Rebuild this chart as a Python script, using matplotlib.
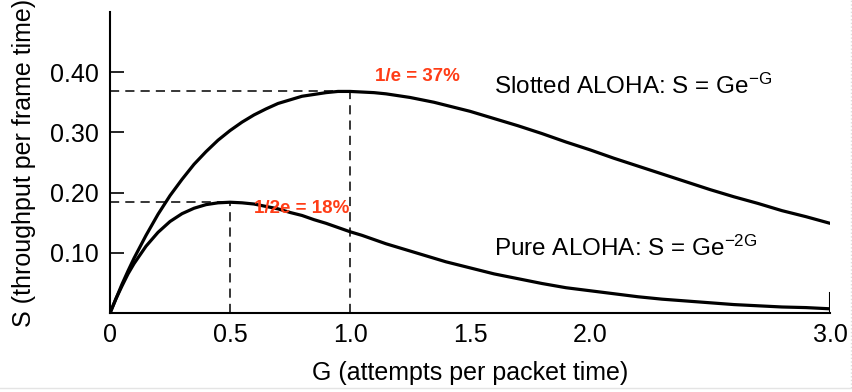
import matplotlib.pyplot as plt
from matplotlib.lines import Line2D

plt.rcParams['font.family'] = ['Liberation Sans', 'DejaVu Sans']
plt.rcParams['mathtext.fontset'] = 'custom'
plt.rcParams['mathtext.rm'] = 'Liberation Sans'
plt.rcParams['mathtext.it'] = 'Liberation Sans'

# G values and throughput
G = [0, 0.025, 0.05, 0.075, 0.1, 0.15, 0.2, 0.25, 0.3, 0.35, 0.4, 0.45, 0.5, 0.55,
     0.6, 0.65, 0.7, 0.75, 0.8, 0.85, 0.9, 0.95, 1.0, 1.05, 1.1, 1.15, 1.2, 1.25,
     1.3, 1.35, 1.4, 1.45, 1.5, 1.6, 1.7, 1.8, 1.9, 2.0, 2.1, 2.2, 2.3, 2.4, 2.5,
     2.6, 2.7, 2.8, 2.9, 3.0]
slotted = [0, 0.024, 0.048, 0.070, 0.091, 0.129, 0.164, 0.195, 0.222, 0.247, 0.268,
           0.287, 0.303, 0.317, 0.329, 0.339, 0.348, 0.354, 0.360, 0.363, 0.366,
           0.368, 0.368, 0.367, 0.366, 0.364, 0.361, 0.358, 0.354, 0.350, 0.345,
           0.340, 0.335, 0.323, 0.311, 0.298, 0.284, 0.271, 0.257, 0.244, 0.231,
           0.218, 0.205, 0.193, 0.182, 0.170, 0.160, 0.149]
pure = [0, 0.024, 0.045, 0.065, 0.082, 0.111, 0.134, 0.152, 0.165, 0.174, 0.180,
        0.183, 0.184, 0.183, 0.181, 0.177, 0.173, 0.167, 0.162, 0.155, 0.149,
        0.142, 0.135, 0.129, 0.122, 0.115, 0.109, 0.103, 0.097, 0.091, 0.085,
        0.080, 0.075, 0.065, 0.057, 0.049, 0.042, 0.037, 0.032, 0.027, 0.023,
        0.020, 0.017, 0.014, 0.012, 0.010, 0.009, 0.007]

peak_slotted = (1.0, 0.368)
peak_pure = (0.5, 0.184)

xticks = [0, 0.5, 1.0, 1.5, 2.0, 3.0]
xticklabels = ["0", "0.5", "1.0", "1.5", "2.0", "3.0"]
yticks = [0.10, 0.20, 0.30, 0.40]
yticklabels = ["0.10", "0.20", "0.30", "0.40"]

fig = plt.figure(figsize=(8.53, 3.92), dpi=100)
ax = fig.add_axes([0.129, 0.2015, 0.844, 0.768])

ax.plot(G, slotted, color='black', lw=2.3, solid_capstyle='round', solid_joinstyle='round')
ax.plot(G, pure, color='black', lw=2.3, solid_capstyle='round', solid_joinstyle='round')

# dashed guides to the maxima
for px, py in [peak_slotted, peak_pure]:
    ax.plot([0, px], [py, py], color='black', lw=1.1, ls=(0, (6, 4)))
    ax.plot([px, px], [0, py], color='black', lw=1.1, ls=(0, (6, 4)))

ax.axvline(3.0, ymax=0.066, color='black', lw=1.5)

ax.set_xlim(0, 3.0)
ax.set_ylim(0, 0.5)
ax.spines['top'].set_visible(False)
ax.spines['right'].set_visible(False)
ax.spines['left'].set_linewidth(1.5)
ax.spines['bottom'].set_linewidth(1.5)

ax.set_xticks(xticks)
ax.set_xticklabels(xticklabels)
ax.set_yticks(yticks)
ax.set_yticklabels(yticklabels)
ax.tick_params(axis='x', length=0, pad=7, labelsize=18)
ax.tick_params(axis='y', direction='in', length=10, width=1.2, pad=8, labelsize=18)

ax.set_xlabel("G (attempts per packet time)", fontsize=18, labelpad=10)
ax.set_ylabel("S (throughput per frame time)", fontsize=18, labelpad=10)

ax.text(1.6, 0.377, "Slotted ALOHA: S = Ge$^{\\mathregular{-G}}$", fontsize=17.5, va='center')
ax.text(1.6, 0.108, "Pure ALOHA: S = Ge$^{\\mathregular{-2G}}$", fontsize=17.5, va='center')
ax.text(1.28, 0.393, "1/e = 37%", color='#ff3d17', fontsize=13.5, fontweight='bold',
        ha='center', va='center')
ax.text(0.6, 0.173, "1/2e = 18%", color='#ff3d17', fontsize=13.5, fontweight='bold',
        ha='left', va='center')

# faint slide border
fig.add_artist(Line2D([0.998, 0.998], [0.01, 1], color='#dddddd', lw=1, ls=':'))
fig.add_artist(Line2D([0, 0.998], [0.01, 0.01], color='#e4e4e4', lw=1))

fig.savefig("out.png", dpi=100)
